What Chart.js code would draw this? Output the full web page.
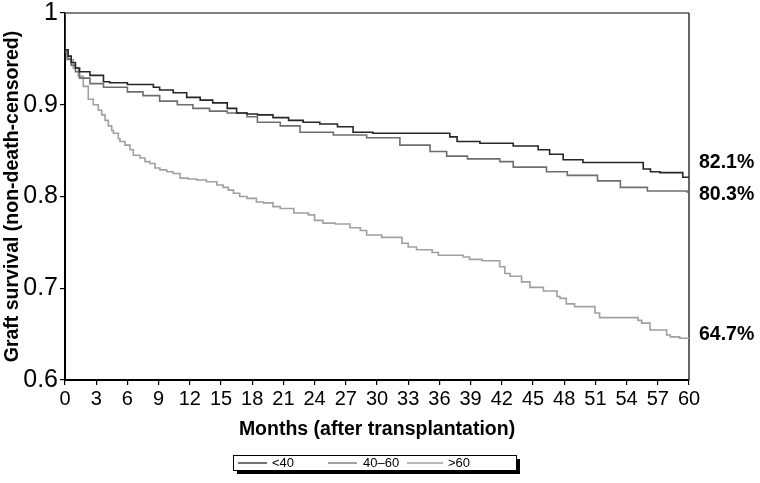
<!DOCTYPE html>
<html>
<head>
<meta charset="utf-8">
<script src="https://cdn.jsdelivr.net/npm/chart.js@4/dist/chart.umd.min.js"></script>
<style>
  html, body { margin: 0; padding: 0; background: #fff; }
  #wrap { width: 760px; height: 483px; position: relative; }
</style>
</head>
<body>
<div id="wrap"><canvas id="c" width="760" height="483"></canvas></div>
<script>
// ---- data ----
const seriesLabels = ['<40', '40\u201360', '>60'];
const endLabels = ['82.1%', '80.3%', '64.7%'];

const monthsLt40 = [0, 0, 0.3, 0.6, 1.0, 1.4, 2.4, 3.7, 4.3, 6.0, 8.5, 9.1, 10.4, 11.7, 13.0, 14.2, 15.6, 16.5, 17.5, 18.5, 20.0, 21.5, 22.9, 24.5, 26.2, 27.7, 29.6, 33.8, 37.0, 37.7, 39.9, 43.1, 45.5, 46.6, 47.9, 49.8, 51.4, 55.6, 56.3, 57.2, 59.4, 59.8, 60];
const survLt40   = [1, 0.97, 0.96, 0.953, 0.946, 0.940, 0.936, 0.932, 0.925, 0.924, 0.922, 0.919, 0.916, 0.913, 0.908, 0.905, 0.902, 0.896, 0.891, 0.890, 0.889, 0.886, 0.883, 0.881, 0.879, 0.876, 0.870, 0.869, 0.869, 0.865, 0.860, 0.858, 0.855, 0.851, 0.846, 0.840, 0.837, 0.837, 0.830, 0.827, 0.826, 0.821, 0.821];

const months40to60 = [0, 0, 0.3, 0.6, 1.0, 1.4, 2.4, 3.7, 6.0, 7.5, 9.1, 10.8, 12.3, 13.9, 15.6, 17.5, 18.5, 20.7, 22.6, 25.8, 29.0, 32.2, 35.1, 36.7, 38.7, 41.8, 43.1, 46.3, 48.3, 51.2, 53.4, 56.0, 59.8, 60];
const surv40to60   = [1, 0.97, 0.958, 0.95, 0.943, 0.936, 0.929, 0.923, 0.919, 0.914, 0.910, 0.904, 0.900, 0.896, 0.893, 0.891, 0.887, 0.881, 0.877, 0.870, 0.867, 0.864, 0.856, 0.849, 0.844, 0.841, 0.838, 0.832, 0.827, 0.823, 0.817, 0.810, 0.806, 0.805];

const monthsGt60 = [0, 0, 0.16, 0.8, 1.28, 1.76, 2.24, 2.72, 3.2, 3.53, 3.85, 4.17, 4.49, 4.65, 5.13, 5.29, 5.77, 6.25, 6.57, 7.21, 7.69, 8.17, 8.65, 9.13, 9.78, 10.4, 11.06, 11.86, 12.66, 13.6, 14.6, 15.2, 15.7, 16.2, 16.8, 17.5, 18.4, 19.1, 20.0, 20.7, 22.0, 23.4, 24.0, 24.8, 26.0, 27.4, 28.4, 29.0, 30.45, 32.4, 33.0, 33.8, 35.3, 35.9, 38.3, 38.9, 40.1, 41.8, 42.3, 42.8, 43.9, 44.7, 46.0, 47.3, 47.6, 48.2, 49.0, 50.96, 51.4, 51.9, 55.1, 55.45, 56.25, 56.4, 57.85, 58.2, 59.1, 59.9, 60];
const survGt60   = [1, 0.97, 0.960, 0.949, 0.940, 0.931, 0.920, 0.906, 0.900, 0.894, 0.889, 0.883, 0.877, 0.872, 0.869, 0.863, 0.860, 0.856, 0.851, 0.845, 0.842, 0.838, 0.836, 0.831, 0.829, 0.827, 0.825, 0.820, 0.819, 0.818, 0.816, 0.8125, 0.810, 0.807, 0.8035, 0.800, 0.798, 0.794, 0.793, 0.789, 0.787, 0.782, 0.780, 0.774, 0.771, 0.770, 0.766, 0.763, 0.758, 0.7555, 0.749, 0.745, 0.742, 0.739, 0.736, 0.734, 0.7315, 0.730, 0.7235, 0.716, 0.713, 0.707, 0.701, 0.697, 0.691, 0.689, 0.683, 0.680, 0.673, 0.668, 0.668, 0.665, 0.662, 0.6545, 0.6545, 0.649, 0.647, 0.6455, 0.6455];

const xTicks = [0, 3, 6, 9, 12, 15, 18, 21, 24, 27, 30, 33, 36, 39, 42, 45, 48, 51, 54, 57, 60];
const yTicks = [0.6, 0.7, 0.8, 0.9, 1];
const yTickLabels = ['0.6', '0.7', '0.8', '0.9', '1'];

const xTitle = 'Months (after transplantation)';
const yTitle = 'Graft survival (non-death-censored)';

// ---- styling ----
const FONT = "'Liberation Sans', Arial, sans-serif";
const colors = ['#262626', '#6e6e6e', '#a0a0a0'];
const endLabelOffsets = [-14.5, 2.5, -4];

function pts(xs, ys) { return xs.map((x, i) => ({ x: x, y: ys[i] })); }

const datasets = [
  { label: seriesLabels[0], data: pts(monthsLt40, survLt40) },
  { label: seriesLabels[1], data: pts(months40to60, surv40to60) },
  { label: seriesLabels[2], data: pts(monthsGt60, survGt60) }
].map((d, i) => Object.assign(d, {
  borderColor: colors[i], borderWidth: 1.6, stepped: 'after',
  pointRadius: 0, fill: false, tension: 0, order: i
}));

const framePlugin = {
  id: 'frame',
  beforeDatasetsDraw(chart) {
    const { ctx, chartArea: a } = chart;
    ctx.save();
    ctx.strokeStyle = '#808080';
    ctx.lineWidth = 2;
    ctx.beginPath(); ctx.moveTo(a.left, a.top); ctx.lineTo(a.right, a.top); ctx.stroke();
    ctx.strokeStyle = '#333';
    ctx.lineWidth = 1.5;
    ctx.beginPath(); ctx.moveTo(a.right, a.top); ctx.lineTo(a.right, a.bottom); ctx.stroke();
    ctx.restore();
  },
  afterDraw(chart) {
    const { ctx, chartArea: a, scales } = chart;
    ctx.save();
    // end labels
    ctx.font = 'bold 19.5px ' + FONT;
    ctx.fillStyle = '#000';
    ctx.textAlign = 'left';
    ctx.textBaseline = 'middle';
    chart.data.datasets.forEach((d, i) => {
      const last = d.data[d.data.length - 1];
      ctx.fillText(endLabels[i], a.right + 10, scales.y.getPixelForValue(last.y) + endLabelOffsets[i]);
    });
    // legend box
    const bx = 233, by = 455, bw = 283, bh = 15;
    ctx.fillStyle = '#000';
    ctx.fillRect(bx + 4, by + 4, bw, bh);
    ctx.fillStyle = '#fff';
    ctx.fillRect(bx, by, bw, bh);
    ctx.strokeStyle = '#000';
    ctx.lineWidth = 1;
    ctx.strokeRect(bx + 0.5, by + 0.5, bw, bh);
    const items = [[238, 267, 272], [328, 357, 363], [407, 443, 448]];
    ctx.font = '13px ' + FONT;
    ctx.textBaseline = 'middle';
    chart.data.datasets.forEach((d, i) => {
      const [x0, x1, tx] = items[i];
      ctx.strokeStyle = colors[i];
      ctx.lineWidth = 1.3;
      ctx.beginPath(); ctx.moveTo(x0, by + 8); ctx.lineTo(x1, by + 8); ctx.stroke();
      ctx.fillStyle = '#000';
      ctx.fillText(d.label, tx, by + 8.5);
    });
    ctx.restore();
  }
};

new Chart(document.getElementById('c'), {
  type: 'line',
  data: { datasets: datasets },
  options: {
    responsive: false,
    animation: false,
    devicePixelRatio: 1,
    layout: { padding: { top: 13, right: 71, left: 0, bottom: 0 } },
    plugins: { legend: { display: false }, tooltip: { enabled: false } },
    scales: {
      x: {
        type: 'linear', min: 0, max: 60,
        afterBuildTicks(s) { s.ticks = xTicks.map(v => ({ value: v })); },
        afterFit(s) { s.height = 103; s.paddingLeft = 0; s.paddingRight = 0; },
        ticks: { autoSkip: false, maxRotation: 0, padding: 4, color: '#000',
                 font: { family: FONT, size: 20, lineHeight: 1 },
                 callback: v => String(v) },
        grid: { display: true, drawOnChartArea: false, drawTicks: true, tickLength: 5, color: '#000', lineWidth: 1.2 },
        border: { display: true, color: '#000', width: 2 },
        title: { display: true, text: xTitle, color: '#000',
                 font: { family: FONT, size: 19.5, weight: 'bold', lineHeight: 1.2 },
                 padding: { top: 0, bottom: 42 } }
      },
      y: {
        type: 'linear', min: 0.6, max: 1,
        afterBuildTicks(s) { s.ticks = yTicks.map(v => ({ value: v })); },
        afterFit(s) { s.width = 65; s.paddingTop = 0; s.paddingBottom = 0; },
        ticks: { padding: 2, color: '#000',
                 font: { family: FONT, size: 25, lineHeight: 1 },
                 callback: (v) => yTickLabels[yTicks.findIndex(t => Math.abs(t - v) < 1e-9)] },
        grid: { display: true, drawOnChartArea: false, drawTicks: true, tickLength: 5, color: '#000', lineWidth: 1.2 },
        border: { display: true, color: '#000', width: 2 },
        title: { display: true, text: yTitle, color: '#000',
                 font: { family: FONT, size: 19.5, weight: 'bold', lineHeight: 1.2 },
                 padding: { top: 1, bottom: 0 } }
      }
    }
  },
  plugins: [framePlugin]
});
</script>
</body>
</html>
